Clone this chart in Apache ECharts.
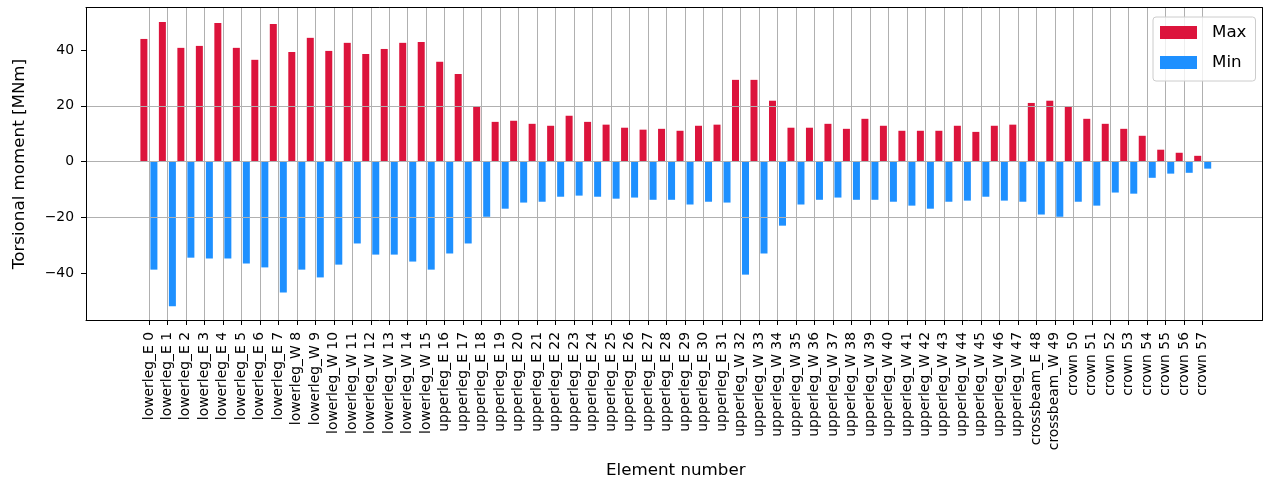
<!DOCTYPE html>
<html>
<head>
<meta charset="utf-8">
<script src="https://cdn.jsdelivr.net/npm/echarts@6/dist/echarts.min.js"></script>
<style>html,body{margin:0;padding:0;background:#fff}#c{width:1263px;height:484px}</style>
</head>
<body>
<div id="c"></div>
<script>
const categories = [
  'lowerleg_E 0','lowerleg_E 1','lowerleg_E 2','lowerleg_E 3','lowerleg_E 4','lowerleg_E 5','lowerleg_E 6','lowerleg_E 7',
  'lowerleg_W 8','lowerleg_W 9','lowerleg_W 10','lowerleg_W 11','lowerleg_W 12','lowerleg_W 13','lowerleg_W 14','lowerleg_W 15',
  'upperleg_E 16','upperleg_E 17','upperleg_E 18','upperleg_E 19','upperleg_E 20','upperleg_E 21','upperleg_E 22','upperleg_E 23',
  'upperleg_E 24','upperleg_E 25','upperleg_E 26','upperleg_E 27','upperleg_E 28','upperleg_E 29','upperleg_E 30','upperleg_E 31',
  'upperleg_W 32','upperleg_W 33','upperleg_W 34','upperleg_W 35','upperleg_W 36','upperleg_W 37','upperleg_W 38','upperleg_W 39',
  'upperleg_W 40','upperleg_W 41','upperleg_W 42','upperleg_W 43','upperleg_W 44','upperleg_W 45','upperleg_W 46','upperleg_W 47',
  'crossbeam_E 48','crossbeam_W 49',
  'crown 50','crown 51','crown 52','crown 53','crown 54','crown 55','crown 56','crown 57'
];
const maxValues = [
  44.0, 50.1, 40.8, 41.5, 49.7, 40.8, 36.5, 49.4,
  39.3, 44.4, 39.7, 42.6, 38.6, 40.4, 42.6, 42.9,
  35.8, 31.4, 19.6, 14.2, 14.6, 13.5, 12.8, 16.4,
  14.2, 13.2, 12.1, 11.4, 11.7, 11.0, 12.8, 13.2,
  29.3, 29.3, 21.8, 12.1, 12.1, 13.5, 11.7, 15.3,
  12.8, 11.0, 11.0, 11.0, 12.8, 10.6, 12.8, 13.2,
  21.0, 21.8,
  19.6, 15.3, 13.5, 11.7, 9.2, 4.2, 3.1, 2.0
];
const minValues = [
  -38.9, -52.1, -34.6, -34.9, -34.9, -36.7, -38.1, -47.1,
  -38.9, -41.7, -37.1, -29.5, -33.5, -33.5, -36.0, -38.9,
  -33.1, -29.5, -19.9, -17.0, -14.8, -14.5, -12.7, -12.3,
  -12.7, -13.4, -13.0, -13.8, -13.8, -15.5, -14.5, -14.8,
  -40.7, -33.1, -23.1, -15.5, -13.8, -13.0, -13.8, -13.8,
  -14.5, -15.9, -17.0, -14.5, -14.1, -12.7, -14.1, -14.5,
  -19.1, -19.9,
  -14.5, -15.9, -11.2, -11.6, -5.9, -4.4, -4.1, -2.6
];
const yTicks = [-40, -20, 0, 20, 40];
const yMin = -57.0, yMax = 55.3;

const FONT = 'DejaVu Sans';
const GRID_COLOR = '#b0b0b0';
const chart = echarts.init(document.getElementById('c'), null, {renderer: 'canvas'});
const frameAxis = (pos) => ({
  gridIndex: 0, type: 'value', position: pos, min: 0, max: 1, z: 4,
  axisLine: {show: true, onZero: false, lineStyle: {color: '#000', width: 1}},
  axisTick: {show: false}, axisLabel: {show: false}, splitLine: {show: false}
});
chart.setOption({
  animation: false,
  textStyle: {fontFamily: FONT},
  grid: [
    {left: 86, right: 1, top: 7.5, bottom: 163.5},
    {left: 148.9, right: 60.3, top: 7.5, bottom: 163.5}
  ],
  legend: {
    data: ['Max', 'Min'],
    orient: 'vertical', left: 1153, top: 17, z: 10,
    icon: 'rect', itemWidth: 37, itemHeight: 13, itemGap: 13,
    padding: [7, 9, 10, 7],
    backgroundColor: 'rgba(255,255,255,0.8)',
    borderColor: '#cccccc', borderWidth: 1, borderRadius: 3,
    textStyle: {fontFamily: FONT, fontSize: 16.7, color: '#000', lineHeight: 14, padding: [0, 0, 0, 10]}
  },
  xAxis: [
    frameAxis('bottom'),
    frameAxis('top'),
    {
      gridIndex: 1, type: 'category', data: categories, boundaryGap: false, z: 3,
      name: 'Element number', nameLocation: 'middle', nameGap: 142,
      nameTextStyle: {fontFamily: FONT, fontSize: 16.7, color: '#000'},
      axisLine: {show: false, onZero: false},
      axisTick: {show: true, interval: 0, length: 5, lineStyle: {color: '#000', width: 1}},
      axisLabel: {interval: 0, rotate: 90, margin: 12, fontFamily: FONT, fontSize: 13.9, color: '#000'},
      splitLine: {show: true, interval: 0, lineStyle: {color: GRID_COLOR, width: 1}}
    }
  ],
  yAxis: [
    {
      gridIndex: 0, type: 'value', min: yMin, max: yMax, z: 3,
      name: 'Torsional moment [MNm]', nameLocation: 'middle', nameGap: 58,
      nameTextStyle: {fontFamily: FONT, fontSize: 16.7, color: '#000'},
      axisLine: {show: true, onZero: false, lineStyle: {color: '#000', width: 1}},
      axisTick: {show: true, length: 5, lineStyle: {color: '#000', width: 1}, customValues: yTicks},
      axisLabel: {
        margin: 12, fontFamily: FONT, fontSize: 13.9, color: '#000', customValues: yTicks,
        formatter: v => (yTicks.indexOf(v) >= 0 ? String(v).replace('-', '\u2212') : '')
      },
      splitLine: {show: true, showMinLine: false, showMaxLine: false, lineStyle: {color: GRID_COLOR, width: 1}}
    },
    {
      gridIndex: 0, type: 'value', position: 'right', min: yMin, max: yMax, z: 4,
      axisLine: {show: true, onZero: false, lineStyle: {color: '#000', width: 1}},
      axisTick: {show: false}, axisLabel: {show: false}, splitLine: {show: false}
    },
    {
      gridIndex: 1, type: 'value', min: yMin, max: yMax, show: false,
      axisLine: {onZero: false},
      splitLine: {show: false}
    }
  ],
  series: [
    {
      name: 'Max', type: 'bar', xAxisIndex: 2, yAxisIndex: 2, data: maxValues,
      barWidth: 7, barGap: '43%', clip: false, itemStyle: {color: '#dc143c'}
    },
    {
      name: 'Min', type: 'bar', xAxisIndex: 2, yAxisIndex: 2, data: minValues,
      barWidth: 7, barGap: '43%', clip: false, itemStyle: {color: '#1e90ff'}
    }
  ]
});
</script>
</body>
</html>
